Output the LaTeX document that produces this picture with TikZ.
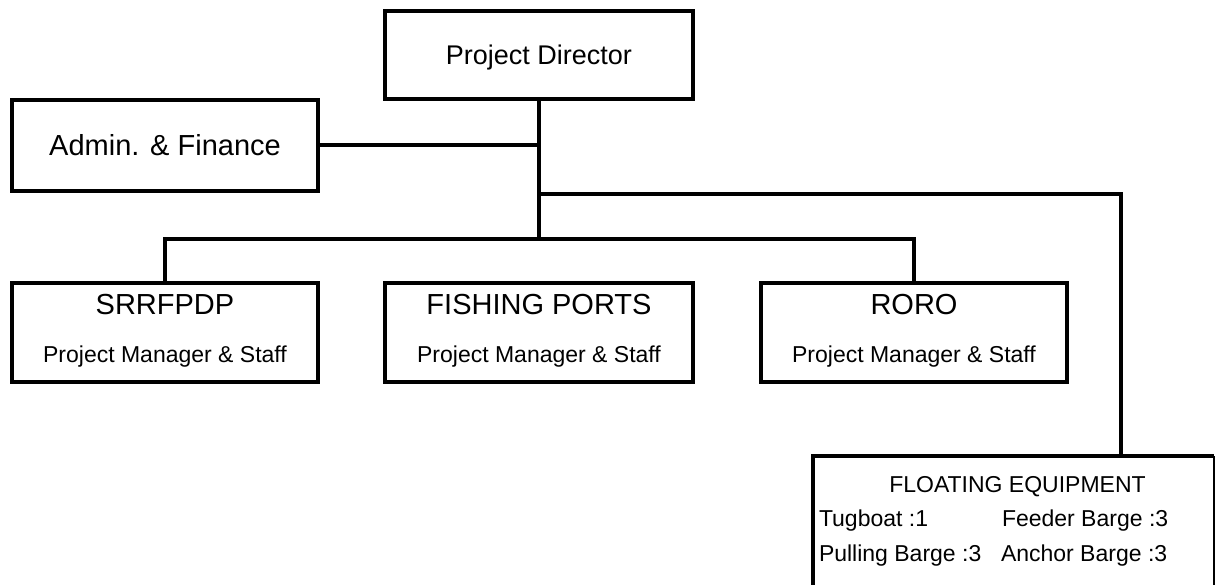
\documentclass[tikz,border=0pt]{standalone}
\usepackage{fontspec}
\setmainfont{Liberation Sans}
\usetikzlibrary{calc}
\begin{document}
\begin{tikzpicture}[x=1pt,y=-1pt,line width=4pt,
  box/.style={draw,line width=4pt,inner sep=0pt,anchor=center},
  txt/.style={inner sep=0pt,anchor=center},
  ftxt/.style={inner sep=0pt,anchor=west,font=\fontsize{23}{27}\selectfont}]
\useasboundingbox (0,0) rectangle (1216,584);
\clip (0,0) rectangle (1216,584);
% boxes
\node[box,minimum width=308pt,minimum height=88pt] (pd) at (539,55) {};
\node[box,minimum width=306pt,minimum height=91pt,font=\fontsize{29}{33}\selectfont] (af) at (165,145) {Admin. \& Finance};
\node[box,minimum width=306pt,minimum height=99pt] (sr) at (165,332.5) {};
\node[box,minimum width=308pt,minimum height=99pt] (fp) at (539,332.5) {};
\node[box,minimum width=306pt,minimum height=99pt] (ro) at (914,332.5) {};
% floating equipment box: heavy left and top, light right edge
\node[inner sep=0pt,minimum width=397pt,minimum height=160pt] (fe) at (1013.5,538) {};
\draw (fe.south west) |- (fe.north east);
\draw[line width=1.2pt] (fe.north east) -- (fe.south east);
% box texts
\node[txt,font=\fontsize{27}{31}\selectfont] (pd-t) at ($(pd.center)+(0,3)$) {Project Director};
\foreach \b/\t in {sr/SRRFPDP,fp/FISHING PORTS,ro/RORO}{
  \node[txt,font=\fontsize{29}{33}\selectfont] (\b-t) at ($(\b.north)+(0,24)$) {\t};
  \node[txt,font=\fontsize{23}{27}\selectfont] (\b-s) at ($(\b.north)+(0,76)$) {Project Manager \& Staff};
}
\node[txt,font=\fontsize{23}{27}\selectfont] (fe-t) at (1017.5,487) {FLOATING EQUIPMENT};
\node[ftxt] (tug) at (817,521) {Tugboat :1};
\node[ftxt] (feed) at (1000,521) {Feeder Barge :3};
\node[ftxt] (pull) at (817,556) {Pulling Barge :3};
\node[ftxt] (anch) at (999,556) {Anchor Barge :3};
% connectors
\coordinate (j1) at (pd.south |- af.east);
\coordinate (j2) at ($(pd.south)+(0,93)$);
\coordinate (bus) at ($(pd.south)+(0,138)$);
\coordinate (fein) at ($(fe.north)+(107.5,0)$);
\draw (pd.south) -- (bus);
\draw (af.east) -- (j1);
\draw (j2) -| (fein);
\draw (sr.north) |- (bus) -| (ro.north);
\end{tikzpicture}
\end{document}
